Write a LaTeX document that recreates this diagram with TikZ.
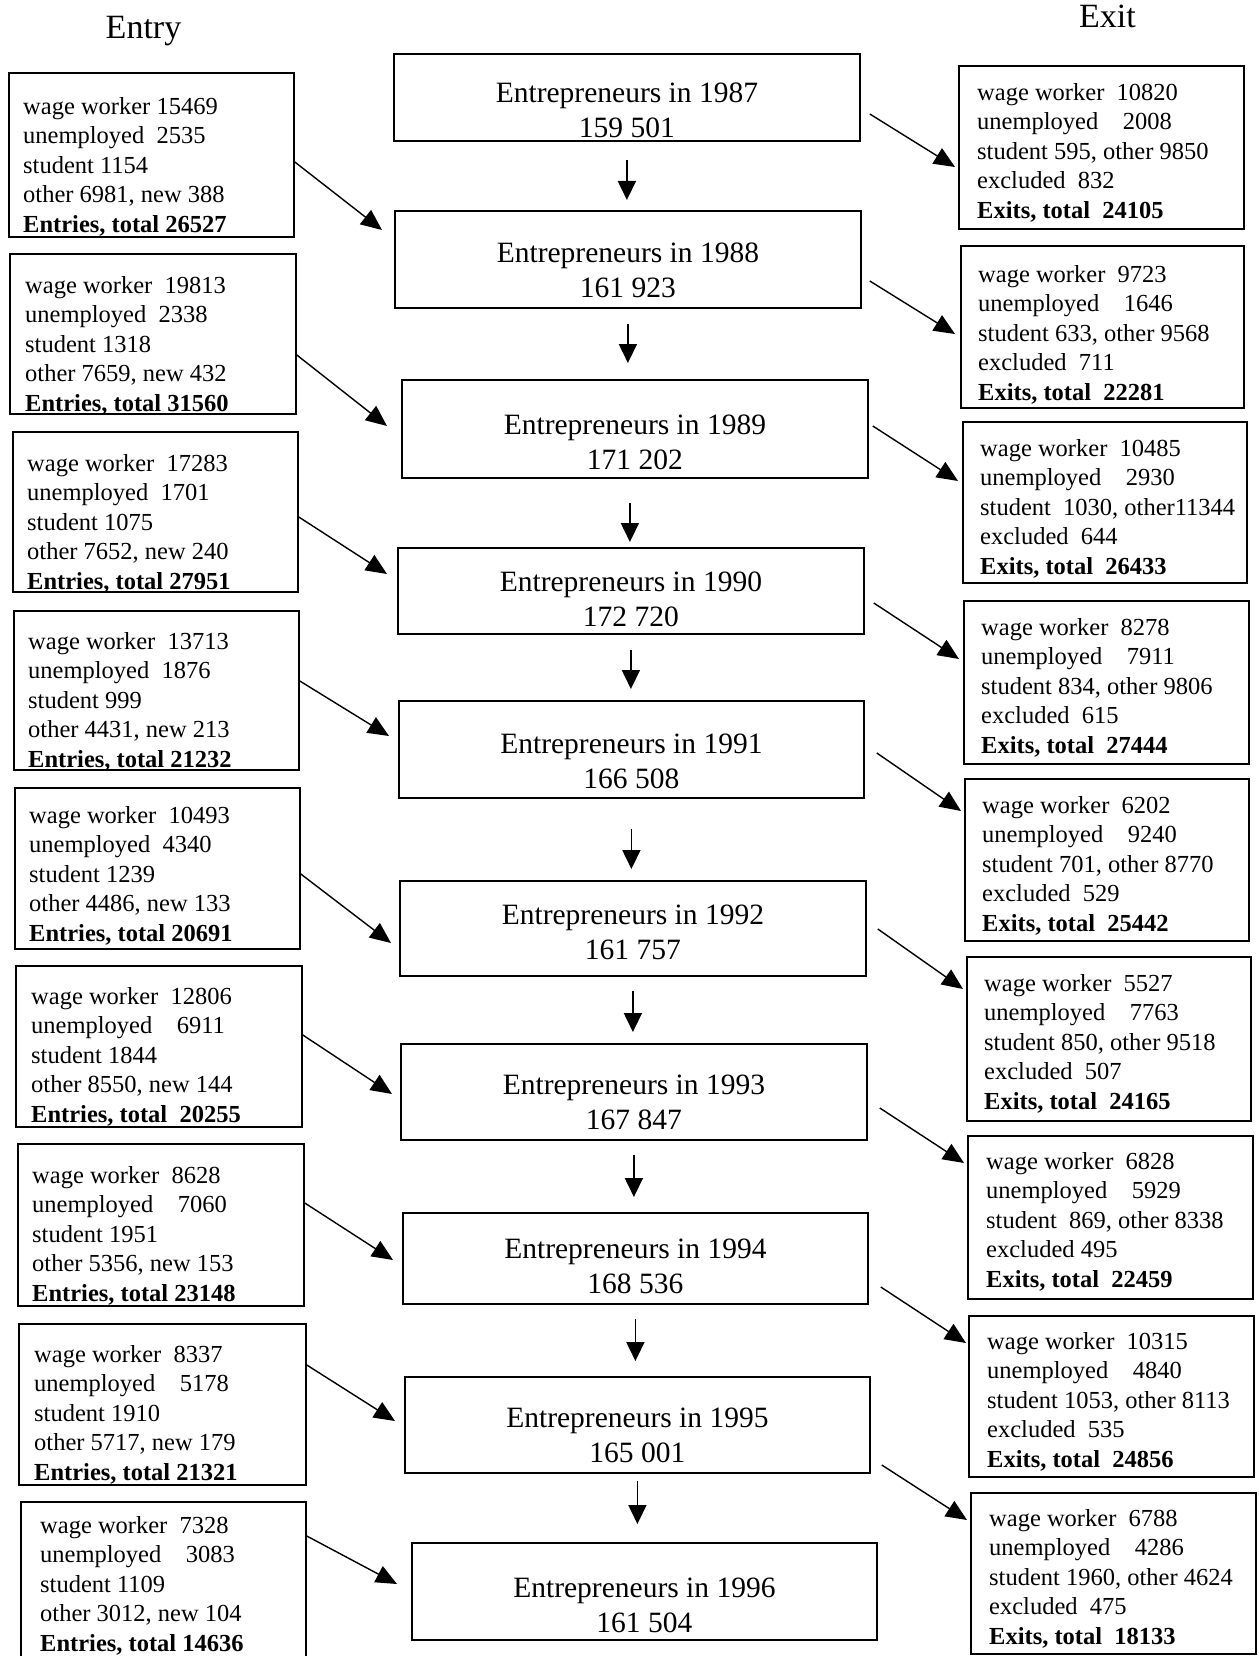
\documentclass[tikz,border=0pt]{standalone}
\usepackage{fontspec}
\setmainfont{Liberation Serif}
\usetikzlibrary{arrows.meta}
\tikzset{
  box/.style={draw, line width=1.8pt, rectangle, inner sep=0pt, anchor=north west},
  sidetext/.style={anchor=north west, inner sep=0pt, align=left, font=\fontsize{24.5}{29.5}\selectfont},
  ctext/.style={anchor=north, inner sep=0pt, align=center, font=\fontsize{29.5}{34.5}\selectfont},
  head/.style={anchor=base, inner sep=0pt, font=\fontsize{34}{40}\selectfont},
  varr/.style={line width=1.8pt, -{Triangle[length=19pt,width=18pt]}},
  darr/.style={line width=1.4pt, -{Triangle[length=21pt,width=18pt]}},
}
\begin{document}
\begin{tikzpicture}[x=1pt,y=-1pt]
\useasboundingbox (0,0) rectangle (1258,1656);
\fill[white] (0,0) rectangle (1258,1656);

% headers
\node[head] (entry) at (143.5,39) {Entry};
\node[head] (exit) at (1107.5,28) {Exit};

% centre boxes
\node[box, minimum width=466, minimum height=87] (C1) at (393,53) {};
\node[box, minimum width=466, minimum height=97] (C2) at (394,210) {};
\node[box, minimum width=466, minimum height=98] (C3) at (401,379) {};
\node[box, minimum width=466, minimum height=86] (C4) at (397,547) {};
\node[box, minimum width=465, minimum height=97] (C5) at (398,700) {};
\node[box, minimum width=466, minimum height=95] (C6) at (399,880) {};
\node[box, minimum width=466, minimum height=96] (C7) at (400,1043) {};
\node[box, minimum width=465, minimum height=91] (C8) at (402,1212) {};
\node[box, minimum width=465, minimum height=96] (C9) at (404,1376) {};
\node[box, minimum width=465, minimum height=97] (C10) at (411,1542) {};

\node[ctext] (C1t) at ([yshift=-30]C1.north) {Entrepreneurs in 1987\\159 501};
\node[ctext] (C2t) at ([yshift=-33]C2.north) {Entrepreneurs in 1988\\161 923};
\node[ctext] (C3t) at ([yshift=-36]C3.north) {Entrepreneurs in 1989\\171 202};
\node[ctext] (C4t) at ([yshift=-25]C4.north) {Entrepreneurs in 1990\\172 720};
\node[ctext] (C5t) at ([yshift=-34]C5.north) {Entrepreneurs in 1991\\166 508};
\node[ctext] (C6t) at ([yshift=-25]C6.north) {Entrepreneurs in 1992\\161 757};
\node[ctext] (C7t) at ([yshift=-32]C7.north) {Entrepreneurs in 1993\\167 847};
\node[ctext] (C8t) at ([yshift=-27]C8.north) {Entrepreneurs in 1994\\168 536};
\node[ctext] (C9t) at ([yshift=-32]C9.north) {Entrepreneurs in 1995\\165 001};
\node[ctext] (C10t) at ([yshift=-36]C10.north) {Entrepreneurs in 1996\\161 504};

% left (entry) boxes
\node[box, minimum width=285, minimum height=164] (L1) at (8,72) {};
\node[box, minimum width=286, minimum height=160] (L2) at (9,253) {};
\node[box, minimum width=285, minimum height=160] (L3) at (12,431) {};
\node[box, minimum width=285, minimum height=159] (L4) at (13,610) {};
\node[box, minimum width=285, minimum height=161] (L5) at (14,787) {};
\node[box, minimum width=286, minimum height=161] (L6) at (15,965) {};
\node[box, minimum width=286, minimum height=162] (L7) at (17,1143) {};
\node[box, minimum width=287, minimum height=161] (L8) at (18,1323) {};
\node[box, minimum width=285, minimum height=166] (L9) at (20,1501) {};

\node[sidetext] (L1t) at ([xshift=15,yshift=-25]L1.north west) {wage worker 15469\\unemployed~ 2535\\student 1154\\other 6981, new 388\\\textbf{Entries, total 26527}};
\node[sidetext] (L2t) at ([xshift=16,yshift=-23]L2.north west) {wage worker~ 19813\\unemployed~ 2338\\student 1318\\other 7659, new 432\\\textbf{Entries, total 31560}};
\node[sidetext] (L3t) at ([xshift=15,yshift=-23]L3.north west) {wage worker~ 17283\\unemployed~ 1701\\student 1075\\other 7652, new 240\\\textbf{Entries, total 27951}};
\node[sidetext] (L4t) at ([xshift=15,yshift=-22]L4.north west) {wage worker~ 13713\\unemployed~ 1876\\student 999\\other 4431, new 213\\\textbf{Entries, total 21232}};
\node[sidetext] (L5t) at ([xshift=15,yshift=-19]L5.north west) {wage worker~ 10493\\unemployed~ 4340\\student 1239\\other 4486, new 133\\\textbf{Entries, total 20691}};
\node[sidetext] (L6t) at ([xshift=16,yshift=-22]L6.north west) {wage worker~ 12806\\unemployed~ ~ 6911\\student 1844\\other 8550, new 144\\\textbf{Entries, total~ 20255}};
\node[sidetext] (L7t) at ([xshift=15,yshift=-23]L7.north west) {wage worker~ 8628\\unemployed~ ~ 7060\\student 1951\\other 5356, new 153\\\textbf{Entries, total 23148}};
\node[sidetext] (L8t) at ([xshift=16,yshift=-22]L8.north west) {wage worker~ 8337\\unemployed~ ~ 5178\\student 1910\\other 5717, new 179\\\textbf{Entries, total 21321}};
\node[sidetext] (L9t) at ([xshift=20,yshift=-15]L9.north west) {wage worker~ 7328\\unemployed~ ~ 3083\\student 1109\\other 3012, new 104\\\textbf{Entries, total 14636}};

% right (exit) boxes
\node[box, minimum width=285, minimum height=163] (R1) at (958,65) {};
\node[box, minimum width=283, minimum height=162] (R2) at (960,245) {};
\node[box, minimum width=284, minimum height=161] (R3) at (962,421) {};
\node[box, minimum width=285, minimum height=163] (R4) at (963,600) {};
\node[box, minimum width=284, minimum height=162] (R5) at (964,778) {};
\node[box, minimum width=284, minimum height=164] (R6) at (966,956) {};
\node[box, minimum width=285, minimum height=163] (R7) at (967,1135) {};
\node[box, minimum width=285, minimum height=161] (R8) at (968,1315) {};
\node[box, minimum width=285, minimum height=161] (R9) at (970,1492) {};

\node[sidetext] (R1t) at ([xshift=19,yshift=-18]R1.north west) {wage worker~ 10820\\unemployed~ ~ 2008\\student 595, other 9850\\excluded~ 832\\\textbf{Exits, total~ 24105}};
\node[sidetext] (R2t) at ([xshift=18,yshift=-20]R2.north west) {wage worker~ 9723\\unemployed~ ~ 1646\\student 633, other 9568\\excluded~ 711\\\textbf{Exits, total~ 22281}};
\node[sidetext] (R3t) at ([xshift=18,yshift=-18]R3.north west) {wage worker~ 10485\\unemployed~ ~ 2930\\student~ 1030, other11344\\excluded~ 644\\\textbf{Exits, total~ 26433}};
\node[sidetext] (R4t) at ([xshift=18,yshift=-18]R4.north west) {wage worker~ 8278\\unemployed~ ~ 7911\\student 834, other 9806\\excluded~ 615\\\textbf{Exits, total~ 27444}};
\node[sidetext] (R5t) at ([xshift=18,yshift=-18]R5.north west) {wage worker~ 6202\\unemployed~ ~ 9240\\student 701, other 8770\\excluded~ 529\\\textbf{Exits, total~ 25442}};
\node[sidetext] (R6t) at ([xshift=18,yshift=-18]R6.north west) {wage worker~ 5527\\unemployed~ ~ 7763\\student 850, other 9518\\excluded~ 507\\\textbf{Exits, total~ 24165}};
\node[sidetext] (R7t) at ([xshift=19,yshift=-17]R7.north west) {wage worker~ 6828\\unemployed~ ~ 5929\\student~ 869, other 8338\\excluded 495\\\textbf{Exits, total~ 22459}};
\node[sidetext] (R8t) at ([xshift=19,yshift=-17]R8.north west) {wage worker~ 10315\\unemployed~ ~ 4840\\student 1053, other 8113\\excluded~ 535\\\textbf{Exits, total~ 24856}};
\node[sidetext] (R9t) at ([xshift=19,yshift=-17]R9.north west) {wage worker~ 6788\\unemployed~ ~ 4286\\student 1960, other 4624\\excluded~ 475\\\textbf{Exits, total~ 18133}};

% vertical arrows
\draw[varr, shorten <=18pt, shorten >=10pt] (C1.south) -- (C1.south |- C2.north);
\draw[varr, shorten <=15pt, shorten >=16pt] (C2.south) -- (C2.south |- C3.north);
\draw[varr, shorten <=24pt, shorten >=5pt] ([xshift=-5]C3.south) -- ([xshift=-5]C3.south |- C4.north);
\draw[varr, shorten <=15pt, shorten >=11pt] (C4.south) -- (C4.south |- C5.north);
\draw[varr, shorten <=30pt, shorten >=11pt] (C5.south) -- (C5.south |- C6.north);
\draw[varr, shorten <=14pt, shorten >=11pt] (C6.south) -- (C6.south |- C7.north);
\draw[varr, shorten <=14pt, shorten >=15pt] (C7.south) -- (C7.south |- C8.north);
\draw[varr, shorten <=14pt, shorten >=15pt] (C8.south) -- (C8.south |- C9.north);
\draw[varr, shorten <=7pt, shorten >=18pt] (C9.south) -- (C9.south |- C10.north);

% entry arrows
\draw[darr] ([yshift=-90]L1.north east) -- ([xshift=-12,yshift=-20]C2.north west);
\draw[darr] ([yshift=-102]L2.north east) -- ([xshift=-14,yshift=-47]C3.north west);
\draw[darr] ([yshift=-86]L3.north east) -- ([xshift=-10,yshift=-27]C4.north west);
\draw[darr] ([yshift=-71]L4.north east) -- ([xshift=-9,yshift=-36]C5.north west);
\draw[darr] ([yshift=-87]L5.north east) -- ([xshift=-8,yshift=-63]C6.north west);
\draw[darr] ([yshift=-70]L6.north east) -- ([xshift=-8,yshift=-51]C7.north west);
\draw[darr] ([yshift=-60]L7.north east) -- ([xshift=-9,yshift=-48]C8.north west);
\draw[darr] ([yshift=-42]L8.north east) -- ([xshift=-9,yshift=-45]C9.north west);
\draw[darr] ([yshift=-35]L9.north east) -- ([xshift=-14,yshift=-42]C10.north west);

% exit arrows
\draw[darr] ([xshift=9,yshift=-61]C1.north east) -- ([xshift=-3,yshift=-102]R1.north west);
\draw[darr] ([xshift=8,yshift=-71]C2.north east) -- ([xshift=-5,yshift=-89]R2.north west);
\draw[darr] ([xshift=4,yshift=-47]C3.north east) -- ([xshift=-4,yshift=-60]R3.north west);
\draw[darr] ([xshift=9,yshift=-56]C4.north east) -- ([xshift=-4,yshift=-59]R4.north west);
\draw[darr] ([xshift=12,yshift=-53]C5.north east) -- ([xshift=-3,yshift=-33]R5.north west);
\draw[darr] ([xshift=11,yshift=-49]C6.north east) -- ([xshift=-3,yshift=-33]R6.north west);
\draw[darr] ([xshift=12,yshift=-65]C7.north east) -- ([xshift=-3,yshift=-28]R7.north west);
\draw[darr] ([xshift=12,yshift=-75]C8.north east) -- ([xshift=-2,yshift=-28]R8.north west);
\draw[darr] ([xshift=11,yshift=-89]C9.north east) -- ([xshift=-3,yshift=-28]R9.north west);
\end{tikzpicture}
\end{document}
